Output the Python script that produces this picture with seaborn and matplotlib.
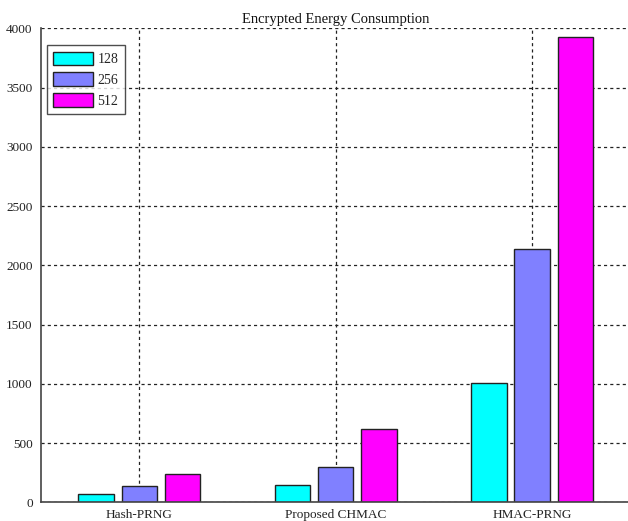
import matplotlib
matplotlib.use("Agg")
import matplotlib.pyplot as plt
import seaborn as sns
import pandas as pd

# Encrypted energy consumption per scheme and key size
schemes = ["Hash-PRNG", "Proposed CHMAC", "HMAC-PRNG"]
key_sizes = ["128", "256", "512"]
energy_128 = [70, 150, 1005]
energy_256 = [135, 300, 2140]
energy_512 = [240, 620, 3930]
y_ticks = [0, 500, 1000, 1500, 2000, 2500, 3000, 3500, 4000]
palette = ["#00FFFF", "#8080FF", "#FF00FF"]

rows = []
for size, vals in zip(key_sizes, [energy_128, energy_256, energy_512]):
    for s, v in zip(schemes, vals):
        rows.append({"scheme": s, "size": size, "energy": v})
df = pd.DataFrame(rows)

sns.set_theme(style="white")
plt.rcParams["font.family"] = ["Liberation Serif", "DejaVu Serif"]

fig = plt.figure(figsize=(6.28, 5.21), dpi=100)
ax = fig.add_axes([0.0653, 0.0359, 0.9385, 0.9098])

sns.barplot(data=df, x="scheme", y="energy", hue="size", order=schemes,
            hue_order=key_sizes, palette=palette, width=0.66, gap=0.18,
            edgecolor="#222222", linewidth=1.0, saturation=1, ax=ax,
            errorbar=None)

ax.set_xlim(-0.5, 2.5)
ax.set_ylim(0, 4000)
ax.set_yticks(y_ticks)
ax.set_yticklabels([str(t) for t in y_ticks])
ax.set_xlabel("")
ax.set_ylabel("")
ax.set_title("Encrypted Energy Consumption", fontsize=10.5, pad=4, color="#111111")

ax.set_axisbelow(True)
ax.grid(True, color="#222222", linestyle=(0, (2.5, 2.5)), linewidth=0.9)
for side in ["left", "bottom"]:
    ax.spines[side].set_color("#444444")
    ax.spines[side].set_linewidth(1.2)
ax.spines["top"].set_visible(False)
ax.spines["right"].set_visible(False)

ax.tick_params(axis="y", which="both", length=4, width=0.8, color="#444444",
               labelsize=9.5, labelcolor="#222222", direction="out", pad=2)
ax.tick_params(axis="x", which="both", length=0, labelsize=9.5,
               labelcolor="#222222", pad=5)

leg = ax.legend(loc="upper left", bbox_to_anchor=(0.01, 0.964), borderaxespad=0,
                frameon=True, fancybox=False, edgecolor="#222222", fontsize=10,
                handlelength=2.9, handleheight=1.15, handletextpad=0.3,
                labelspacing=0.45, borderpad=0.45, title=None)
leg.get_frame().set_linewidth(1.0)

fig.savefig("out.png", dpi=100)
